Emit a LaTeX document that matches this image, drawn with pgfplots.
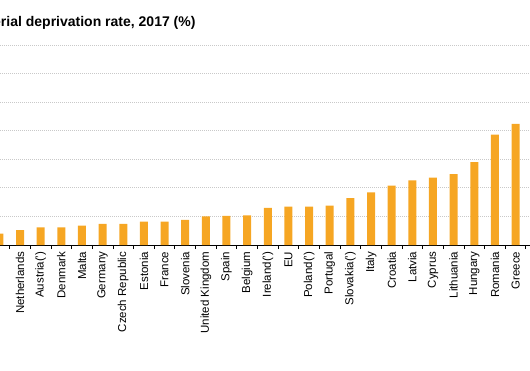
\documentclass[border=0pt]{standalone}
\usepackage{fontspec}
\setmainfont{Liberation Sans}
\usepackage{pgfplots}
\pgfplotsset{compat=1.18}
\definecolor{barorange}{RGB}{246,166,35}
\begin{document}
\begin{tikzpicture}
\useasboundingbox (0,0) rectangle (530pt,370pt);
\clip (0,0) rectangle (530pt,370pt);
\node[anchor=base west, inner sep=0pt, font=\bfseries\fontsize{14}{16}\selectfont] at (-81.7pt,343pt) {Severe material deprivation rate, 2017 (\%)};
\begin{axis}[
  at={(0pt,125pt)}, anchor=south west,
  scale only axis, width=530pt, height=200pt,
  xmin=0.03, xmax=25.7, ymin=0, ymax=35,
  axis lines*=left,
  y axis line style={draw=none},
  x axis line style={black, line width=0.9pt},
  ytick={5,10,...,35}, yticklabels={}, ytick style={draw=none},
  ymajorgrids, grid style={gray!42, line width=0.8pt, dash pattern=on 1.2pt off 0.8pt},
  xtick={-0.5,0.5,...,25.5},
  xticklabels={Finland,Netherlands,Austria('),Denmark,Malta,Germany,Czech Republic,Estonia,France,Slovenia,United Kingdom,Spain,Belgium,Ireland('),EU,Poland('),Portugal,Slovakia('),Italy,Croatia,Latvia,Cyprus,Lithuania,Hungary,Romania,Greece,{}},
  tick align=outside, major tick length=4pt,
  xtick style={draw=black, line width=0.8pt},
  xticklabel style={rotate=90, anchor=east, font=\fontsize{11.5}{13}\selectfont, inner sep=0pt, xshift=-2.5pt, yshift=-10.33pt},
]
\addplot[ybar, bar width=8pt, fill=barorange, draw=none] coordinates {
(0,2.0) (1,2.6) (2,3.1) (3,3.1) (4,3.4) (5,3.7) (6,3.7) (7,4.1) (8,4.1) (9,4.4)
(10,5.0) (11,5.1) (12,5.2) (13,6.5) (14,6.7) (15,6.7) (16,6.9) (17,8.2) (18,9.2)
(19,10.4) (20,11.3) (21,11.8) (22,12.4) (23,14.5) (24,19.3) (25,21.2)
};
\end{axis}
\end{tikzpicture}
\end{document}
